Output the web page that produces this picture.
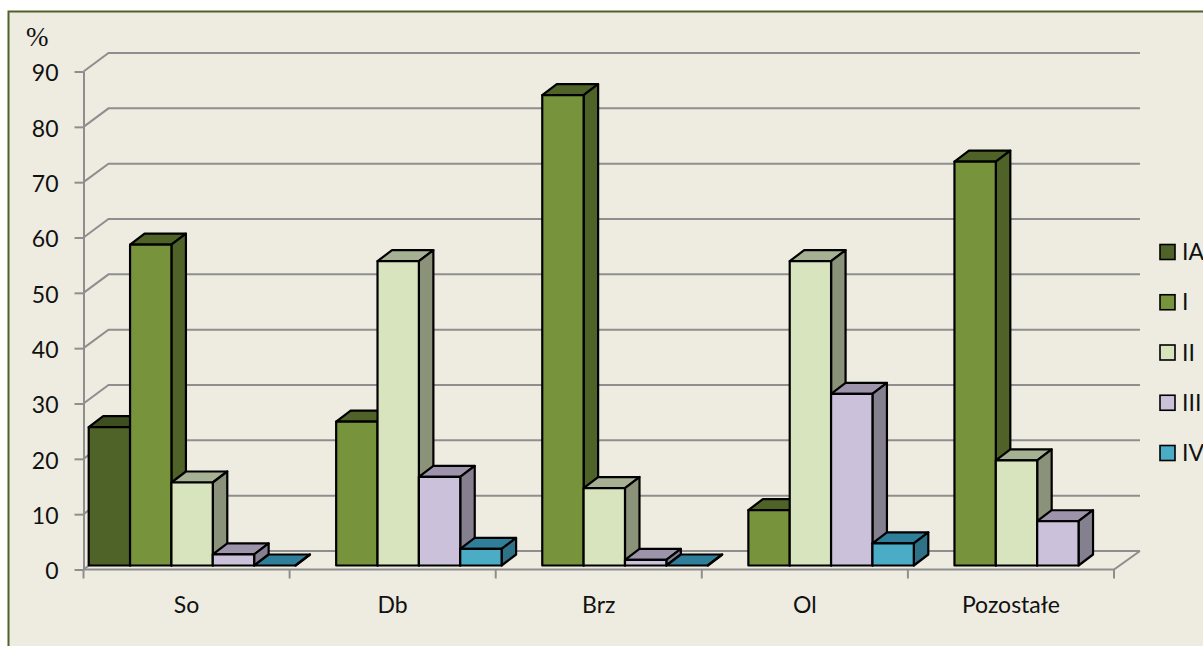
<!DOCTYPE html>
<html>
<head>
<meta charset="utf-8">
<script src="https://cdn.jsdelivr.net/npm/d3@7"></script>
<style>
  html, body { margin: 0; padding: 0; background: #fff; overflow: hidden; }
  svg { display: block; }
  text { font-family: Lato, "Open Sans", sans-serif; fill: #111; }
</style>
</head>
<body>
<script>
const categories = ["So", "Db", "Brz", "Ol", "Pozostałe"];
const classes = ["IA", "I", "II", "III", "IV"];
// null = no bar drawn at all, 0 = flat bar
const seriesIA = [25, null, null, null, null];
const seriesI = [58, 26, 85, 10, 73];
const seriesII = [15, 55, 14, 55, 19];
const seriesIII = [2, 16, 1, 31, 8];
const seriesIV = [0, 3, 0, 4, null];
const yTicks = [0, 10, 20, 30, 40, 50, 60, 70, 80, 90];

const series = [seriesIA, seriesI, seriesII, seriesIII, seriesIV];

const width = 1203;
const height = 646;
const wallDx = 25; // depth of the chart box
const wallDy = -18.5;
const barDx = 14.5; // depth of one bar
const barDy = -11;
const barLift = -4; // bars stand a little behind the front edge of the floor

const colors = {
  front: ["#4f6228", "#77933c", "#d7e4bd", "#ccc1da", "#4bacc6"],
  top: ["#3e4e20", "#4f6228", "#a6b193", "#9d94ab", "#2f7f9b"],
  side: ["#3e4e20", "#4f6228", "#8a9279", "#85808f", "#2f7288"]
};

const svg = d3
  .select("body")
  .append("svg")
  .attr("width", width)
  .attr("height", height);

// frame
svg
  .append("rect")
  .attr("x", 8.5)
  .attr("y", 11.5)
  .attr("width", width + 10)
  .attr("height", height + 10)
  .attr("fill", "#eeece1")
  .attr("stroke", "#4f6228")
  .attr("stroke-width", 2);

const xScale = d3
  .scaleBand()
  .domain(categories)
  .range([83.5, 1114]);
const inner = d3
  .scaleBand()
  .domain(classes)
  .range([5.2, 212]);
const yScale = d3
  .scaleLinear()
  .domain([0, 90])
  .range([569.5, 71.5]);

const gridColor = "#8e8e8e";

// back wall lines with the short diagonal to the axis
const grid = svg.append("g");
grid
  .selectAll("path")
  .data(yTicks)
  .enter()
  .append("path")
  .attr("d", function(d) {
    const y = yScale(d);
    const path = d3.path();
    path.moveTo(83.5, y);
    path.lineTo(83.5 + wallDx, y + wallDy);
    path.lineTo(1140, y + wallDy);
    return path.toString();
  })
  .attr("fill", "none")
  .attr("stroke", gridColor)
  .attr("stroke-width", 2);

// floor front edge and right diagonal
grid
  .append("path")
  .attr("d", `M83.5,${yScale(0)}H1114L1140,${yScale(0) + wallDy}`)
  .attr("fill", "none")
  .attr("stroke", gridColor)
  .attr("stroke-width", 2);

// y axis
const yAxis = d3
  .axisLeft(yScale)
  .tickValues(yTicks)
  .tickSize(9)
  .tickPadding(16)
  .tickSizeOuter(0);
const yG = svg
  .append("g")
  .attr("transform", "translate(83.5, 0)")
  .call(yAxis);
yG.selectAll("path, line").attr("stroke", gridColor).attr("stroke-width", 2);
yG.selectAll("text")
  .style("font-size", "23px")
  .style("font-family", "Lato, sans-serif")
  .attr("fill", "#111")
  .attr("x", -25)
  .attr("y", 2);

// x axis: ticks sit between the groups
const xAxis = d3
  .axisBottom(xScale)
  .tickSize(0)
  .tickPadding(27)
  .tickSizeOuter(0);
const xG = svg
  .append("g")
  .attr("transform", `translate(0, ${yScale(0)})`)
  .call(xAxis);
xG.select(".domain").remove();
xG.selectAll("text")
  .style("font-size", "23px")
  .style("font-family", "Lato, sans-serif")
  .attr("fill", "#111");
const xEdges = categories.map(function(c) {
  return xScale(c);
}).concat([xScale.range()[1]]);
xG.selectAll(".edge")
  .data(xEdges)
  .enter()
  .append("line")
  .attr("class", "edge")
  .attr("x1", function(d) {
    return d;
  })
  .attr("x2", function(d) {
    return d;
  })
  .attr("y1", 0)
  .attr("y2", 9)
  .attr("stroke", gridColor)
  .attr("stroke-width", 2);

// bars
const bars = [];
categories.forEach(function(cat, c) {
  classes.forEach(function(cls, s) {
    if (series[s][c] !== null) {
      bars.push({ cat: cat, cls: cls, s: s, value: series[s][c] });
    }
  });
});

const barG = svg
  .append("g")
  .selectAll("g")
  .data(bars)
  .enter()
  .append("g")
  .attr("stroke", "#000")
  .attr("stroke-width", 2.2)
  .attr("stroke-linejoin", "round");

function geom(d) {
  const x0 = xScale(d.cat) + inner(d.cls);
  const x1 = x0 + inner.bandwidth();
  const yTop = yScale(d.value) + barLift;
  const yBase = yScale(0) + barLift;
  return { x0: x0, x1: x1, yTop: yTop, yBase: yBase };
}

barG
  .append("path") // top
  .attr("fill", function(d) {
    return colors.top[d.s];
  })
  .attr("d", function(d) {
    const g = geom(d);
    return `M${g.x0},${g.yTop}l${barDx},${barDy}H${g.x1 + barDx}L${g.x1},${g.yTop}Z`;
  });

barG
  .append("path") // side
  .attr("fill", function(d) {
    return colors.side[d.s];
  })
  .attr("d", function(d) {
    const g = geom(d);
    return `M${g.x1},${g.yTop}l${barDx},${barDy}V${g.yBase + barDy}L${g.x1},${g.yBase}Z`;
  });

barG
  .append("rect") // front
  .attr("fill", function(d) {
    return colors.front[d.s];
  })
  .attr("x", function(d) {
    return geom(d).x0;
  })
  .attr("y", function(d) {
    return geom(d).yTop;
  })
  .attr("width", inner.bandwidth())
  .attr("height", function(d) {
    const g = geom(d);
    return g.yBase - g.yTop;
  });

// percent sign above the axis
svg
  .append("text")
  .attr("x", 26)
  .attr("y", 46)
  .style("font-family", "'Liberation Serif', serif")
  .style("font-size", "27px")
  .style("font-weight", "300")
  .text("%");

// Legend
const legendY = d3
  .scalePoint()
  .domain(classes)
  .range([252, 453]);
const legend = svg
  .append("g")
  .selectAll("g")
  .data(classes)
  .enter()
  .append("g")
  .attr("transform", function(d) {
    return `translate(1160, ${legendY(d)})`;
  });
legend
  .append("rect")
  .attr("x", 0)
  .attr("y", -7.5)
  .attr("width", 15)
  .attr("height", 15)
  .attr("fill", function(d, i) {
    return colors.front[i];
  })
  .attr("stroke", "#000")
  .attr("stroke-width", 1.6);
legend
  .append("text")
  .attr("x", 22)
  .attr("y", 8)
  .style("font-size", "23px")
  .text(function(d) {
    return d;
  });
</script>
</body>
</html>
